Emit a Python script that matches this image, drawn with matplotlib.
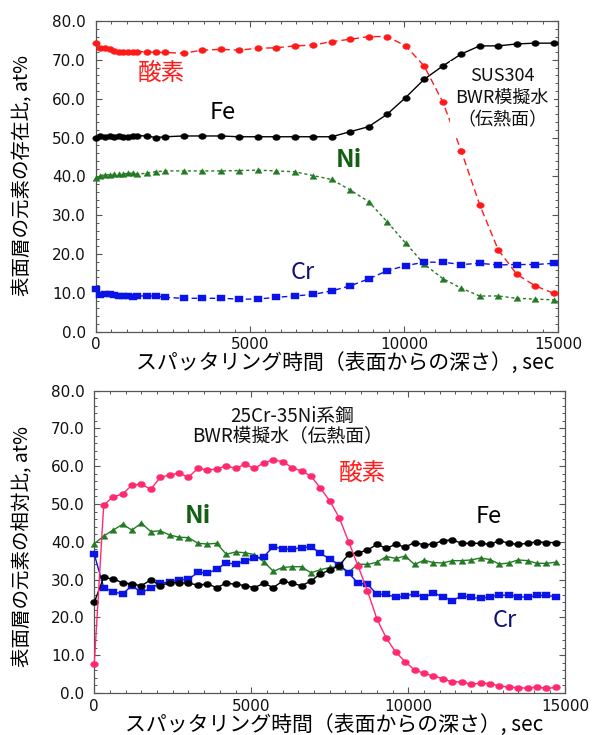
import matplotlib
matplotlib.use("Agg")
import matplotlib.pyplot as plt
from matplotlib.path import Path
from matplotlib.transforms import Affine2D
from matplotlib.ticker import MultipleLocator, FormatStrFormatter

plt.rcParams['font.family'] = 'DejaVu Sans'
JP = ['Noto Sans CJK JP', 'DejaVu Sans']

# ---- SUS304 (upper panel) ----
t_sus = [0, 150, 300, 450, 600, 750, 900, 1050, 1200, 1350, 1650, 1950, 2250,
         2850, 3450, 4050, 4650, 5250, 5850, 6450, 7050, 7650, 8250, 8850,
         9450, 10050, 10650, 11250, 11850, 12450, 13050, 13650, 14250, 14850]
o_sus = [74.3, 73.1, 73.0, 72.7, 72.4, 72.1, 71.9, 71.9, 71.9, 72.1, 72.1, 71.9, 71.9,
         71.7, 72.5, 72.7, 72.5, 73.0, 73.1, 73.6, 73.8, 74.7, 75.3, 76.0,
         76.0, 73.6, 68.4, 59.2, 46.6, 32.7, 21.1, 14.8, 11.8, 9.9]
fe_sus = [50.0, 50.4, 50.2, 50.4, 50.2, 50.4, 50.2, 50.2, 50.4, 50.5, 50.4, 50.0, 50.2,
          50.4, 50.4, 50.4, 50.2, 50.2, 50.2, 50.2, 50.2, 50.2, 51.5, 52.8,
          56.0, 60.3, 65.0, 68.4, 71.5, 73.6, 73.6, 74.1, 74.3, 74.3]
ni_sus = [39.5, 40.2, 40.4, 40.4, 40.5, 40.5, 40.6, 40.8, 40.8, 40.6, 40.8, 41.2, 41.4,
          41.4, 41.4, 41.4, 41.5, 41.6, 41.4, 41.2, 40.2, 39.2, 36.5, 33.5,
          28.3, 22.8, 17.4, 13.7, 11.2, 9.2, 9.2, 8.6, 8.4, 8.2]
cr_sus = [11.0, 9.45, 9.6, 9.7, 9.45, 9.3, 9.3, 9.2, 9.0, 9.2, 9.2, 9.2, 8.85,
          8.6, 8.6, 8.6, 8.4, 8.4, 8.85, 9.2, 9.6, 10.5, 11.8, 13.6,
          15.7, 17.0, 17.9, 17.9, 17.3, 17.6, 17.2, 17.3, 17.3, 17.6]

# ---- 25Cr-35Ni steel (lower panel) ----
t_ni = [0, 300, 600, 900, 1200, 1500, 1800, 2100, 2400, 2700, 3000, 3300, 3600, 3900,
        4200, 4500, 4800, 5100, 5400, 5700, 6000, 6300, 6600, 6900,
        7200, 7500, 7800, 8100, 8400, 8700, 9000, 9300, 9600, 9900,
        10200, 10500, 10800, 11100, 11400, 11700, 12000, 12300, 12600, 12900,
        13200, 13500, 13800, 14100, 14400, 14700]
o_ni = [7.8, 49.7, 51.9, 52.6, 55.0, 55.2, 53.9, 57.0, 57.7, 58.1, 57.1, 59.4, 59.0, 59.2,
        60.1, 59.4, 60.5, 59.4, 60.9, 61.6, 61.2, 59.6, 58.7, 57.4,
        54.2, 50.8, 46.4, 40.0, 33.6, 27.0, 19.6, 14.5, 10.8, 8.3,
        6.1, 5.2, 4.5, 3.8, 2.9, 3.0, 2.3, 2.6, 2.5, 1.85,
        1.6, 1.4, 1.3, 1.6, 1.2, 1.5]
fe_ni = [24.0, 30.6, 30.1, 29.2, 28.8, 28.4, 29.9, 28.4, 29.2, 29.2, 29.0, 28.6, 28.8, 27.9,
         29.0, 28.8, 28.4, 27.9, 29.0, 27.9, 29.6, 29.0, 28.4, 29.6,
         31.5, 32.5, 33.7, 36.7, 37.1, 37.8, 39.3, 38.3, 39.3, 38.6,
         39.8, 39.2, 39.4, 40.3, 40.5, 39.6, 39.6, 39.6, 39.3, 40.3,
         39.6, 39.3, 39.6, 40.0, 39.8, 39.8]
ni_ni = [39.5, 41.5, 43.1, 44.6, 43.1, 44.9, 42.7, 42.9, 41.8, 41.2, 41.1, 39.6, 39.4, 39.6,
         36.7, 37.3, 37.1, 36.6, 34.7, 32.2, 33.2, 33.4, 33.4, 31.8,
         32.6, 33.2, 33.4, 32.0, 34.1, 34.0, 34.6, 36.1, 35.6, 36.2,
         34.0, 35.1, 34.5, 34.4, 35.0, 35.0, 35.2, 35.7, 35.3, 34.1,
         34.4, 35.2, 35.0, 34.3, 34.3, 34.6]
cr_ni = [36.7, 27.9, 26.8, 26.2, 28.4, 26.6, 27.7, 29.0, 29.4, 29.9, 30.1, 31.9, 31.7, 32.7,
         34.5, 34.0, 35.0, 35.6, 36.1, 38.7, 38.1, 38.1, 38.4, 38.7,
         37.0, 35.4, 33.9, 31.8, 29.0, 28.8, 26.1, 26.1, 25.3, 25.6,
         26.3, 25.3, 26.4, 25.5, 24.4, 25.7, 25.3, 25.0, 25.5, 25.8,
         25.9, 25.5, 25.3, 25.8, 25.8, 25.5]

xlabel = 'スパッタリング時間（表面からの深さ）, sec'
ylabel_top = '表面層の元素の存在比, at%'
ylabel_bot = '表面層の元素の相対比, at%'

# slightly flattened marker shapes
ellipse = Path.unit_circle().transformed(Affine2D().scale(1.0, 0.78))
square = Path([(-1, -0.8), (1, -0.8), (1, 0.8), (-1, 0.8), (-1, -0.8)], closed=True)
triangle = Path([(0, 0.8), (-1, -0.8), (1, -0.8), (0, 0.8)], closed=True)

RED = '#ff1a1a'
PINK = '#ff2a6e'
GREEN = '#247a24'
BLUE = '#0a14e6'

fig = plt.figure(figsize=(5.96, 7.35), dpi=100)
ax1 = fig.add_axes([0.1606, 0.5487, 0.7762, 0.4227])
ax2 = fig.add_axes([0.1582, 0.0571, 0.7903, 0.4116])


def style_axes(ax):
    ax.set_xlim(0, 15000)
    ax.set_ylim(0, 80)
    ax.xaxis.set_major_locator(MultipleLocator(5000))
    ax.xaxis.set_minor_locator(MultipleLocator(500))
    ax.yaxis.set_major_locator(MultipleLocator(10))
    ax.yaxis.set_minor_locator(MultipleLocator(2))
    ax.yaxis.set_major_formatter(FormatStrFormatter('%.1f'))
    ax.tick_params(which='both', direction='in', top=True, right=True,
                   color='#555555', labelcolor='#111111', labelsize=11)
    ax.tick_params(which='major', length=4, width=0.8)
    ax.tick_params(which='minor', length=2.3, width=0.7)
    ax.tick_params(axis='x', pad=4)
    ax.tick_params(axis='y', pad=7)
    for s in ax.spines.values():
        s.set_color('#555555')
        s.set_linewidth(0.9)


def draw(ax, t, y, color, marker, ms, ls, dashes=None, z=3):
    line, = ax.plot(t, y, color=color, lw=1.0, ls=ls, marker=marker, ms=ms,
                    mew=0.3, mec=color, mfc=color, clip_on=False, zorder=z)
    if dashes is not None:
        line.set_dashes(dashes)
    return line


# upper panel
style_axes(ax1)
draw(ax1, t_sus, ni_sus, GREEN, triangle, 5.0, '--', (2.2, 2.0), z=3)
draw(ax1, t_sus, cr_sus, BLUE, square, 5.2, '--', (4, 2.5), z=3)
draw(ax1, t_sus, fe_sus, 'black', ellipse, 5.4, '-', z=4)
draw(ax1, t_sus, o_sus, RED, ellipse, 5.4, '--', (5, 2.8), z=4)

ax1.set_xlabel(xlabel, family=JP, fontsize=15)
ax1.xaxis.set_label_coords(0.539, -0.101)
ax1.xaxis.label.set_va('center')
ax1.set_ylabel(ylabel_top, family=JP, fontsize=14)
ax1.yaxis.set_label_coords(-0.157, 0.503)
ax1.yaxis.label.set_va('center')

ax1.text(2120, 66.4, '酸素', family=JP, fontsize=17, color=RED, ha='center', va='center')
ax1.text(4130, 56.4, 'Fe', family=JP, fontsize=17, color='black', ha='center', va='center')
ax1.text(8210, 44.3, 'Ni', family=JP, fontsize=18, fontweight='bold', color='#145f14',
         ha='center', va='center')
ax1.text(6720, 15.2, 'Cr', family=JP, fontsize=17, color='#121275', ha='center', va='center')
ax1.text(13175, 60.2, 'SUS304\nBWR模擬水\n（伝熱面）', family=JP, fontsize=13,
         ha='center', va='center', multialignment='center', linespacing=1.3,
         color='#111111', zorder=6,
         bbox=dict(facecolor='white', edgecolor='none', pad=4))

# lower panel
style_axes(ax2)
draw(ax2, t_ni, ni_ni, GREEN, triangle, 5.0, '-', z=3)
draw(ax2, t_ni, cr_ni, BLUE, square, 5.2, '-', z=3)
draw(ax2, t_ni, fe_ni, 'black', ellipse, 5.6, '-', z=4)
draw(ax2, t_ni, o_ni, PINK, ellipse, 5.6, '-', z=5)

ax2.set_xlabel(xlabel, family=JP, fontsize=15)
ax2.xaxis.set_label_coords(0.509, -0.106)
ax2.xaxis.label.set_va('center')
ax2.set_ylabel(ylabel_bot, family=JP, fontsize=14)
ax2.yaxis.set_label_coords(-0.151, 0.484)
ax2.yaxis.label.set_va('center')

ax2.text(6300, 73.0, '25Cr-35Ni系鋼', family=JP, fontsize=13.5, color='#111111',
         ha='center', va='center')
ax2.text(6140, 67.7, 'BWR模擬水（伝熱面）', family=JP, fontsize=13.5, color='#111111',
         ha='center', va='center')
ax2.text(8540, 58.2, '酸素', family=JP, fontsize=17, color=RED, ha='center', va='center')
ax2.text(12550, 46.6, 'Fe', family=JP, fontsize=17, color='black', ha='center', va='center')
ax2.text(3310, 46.8, 'Ni', family=JP, fontsize=18, fontweight='bold', color='#145f14',
         ha='center', va='center')
ax2.text(13080, 19.3, 'Cr', family=JP, fontsize=17, color='#121275', ha='center', va='center')

fig.savefig('out.png', dpi=100, facecolor='white')
